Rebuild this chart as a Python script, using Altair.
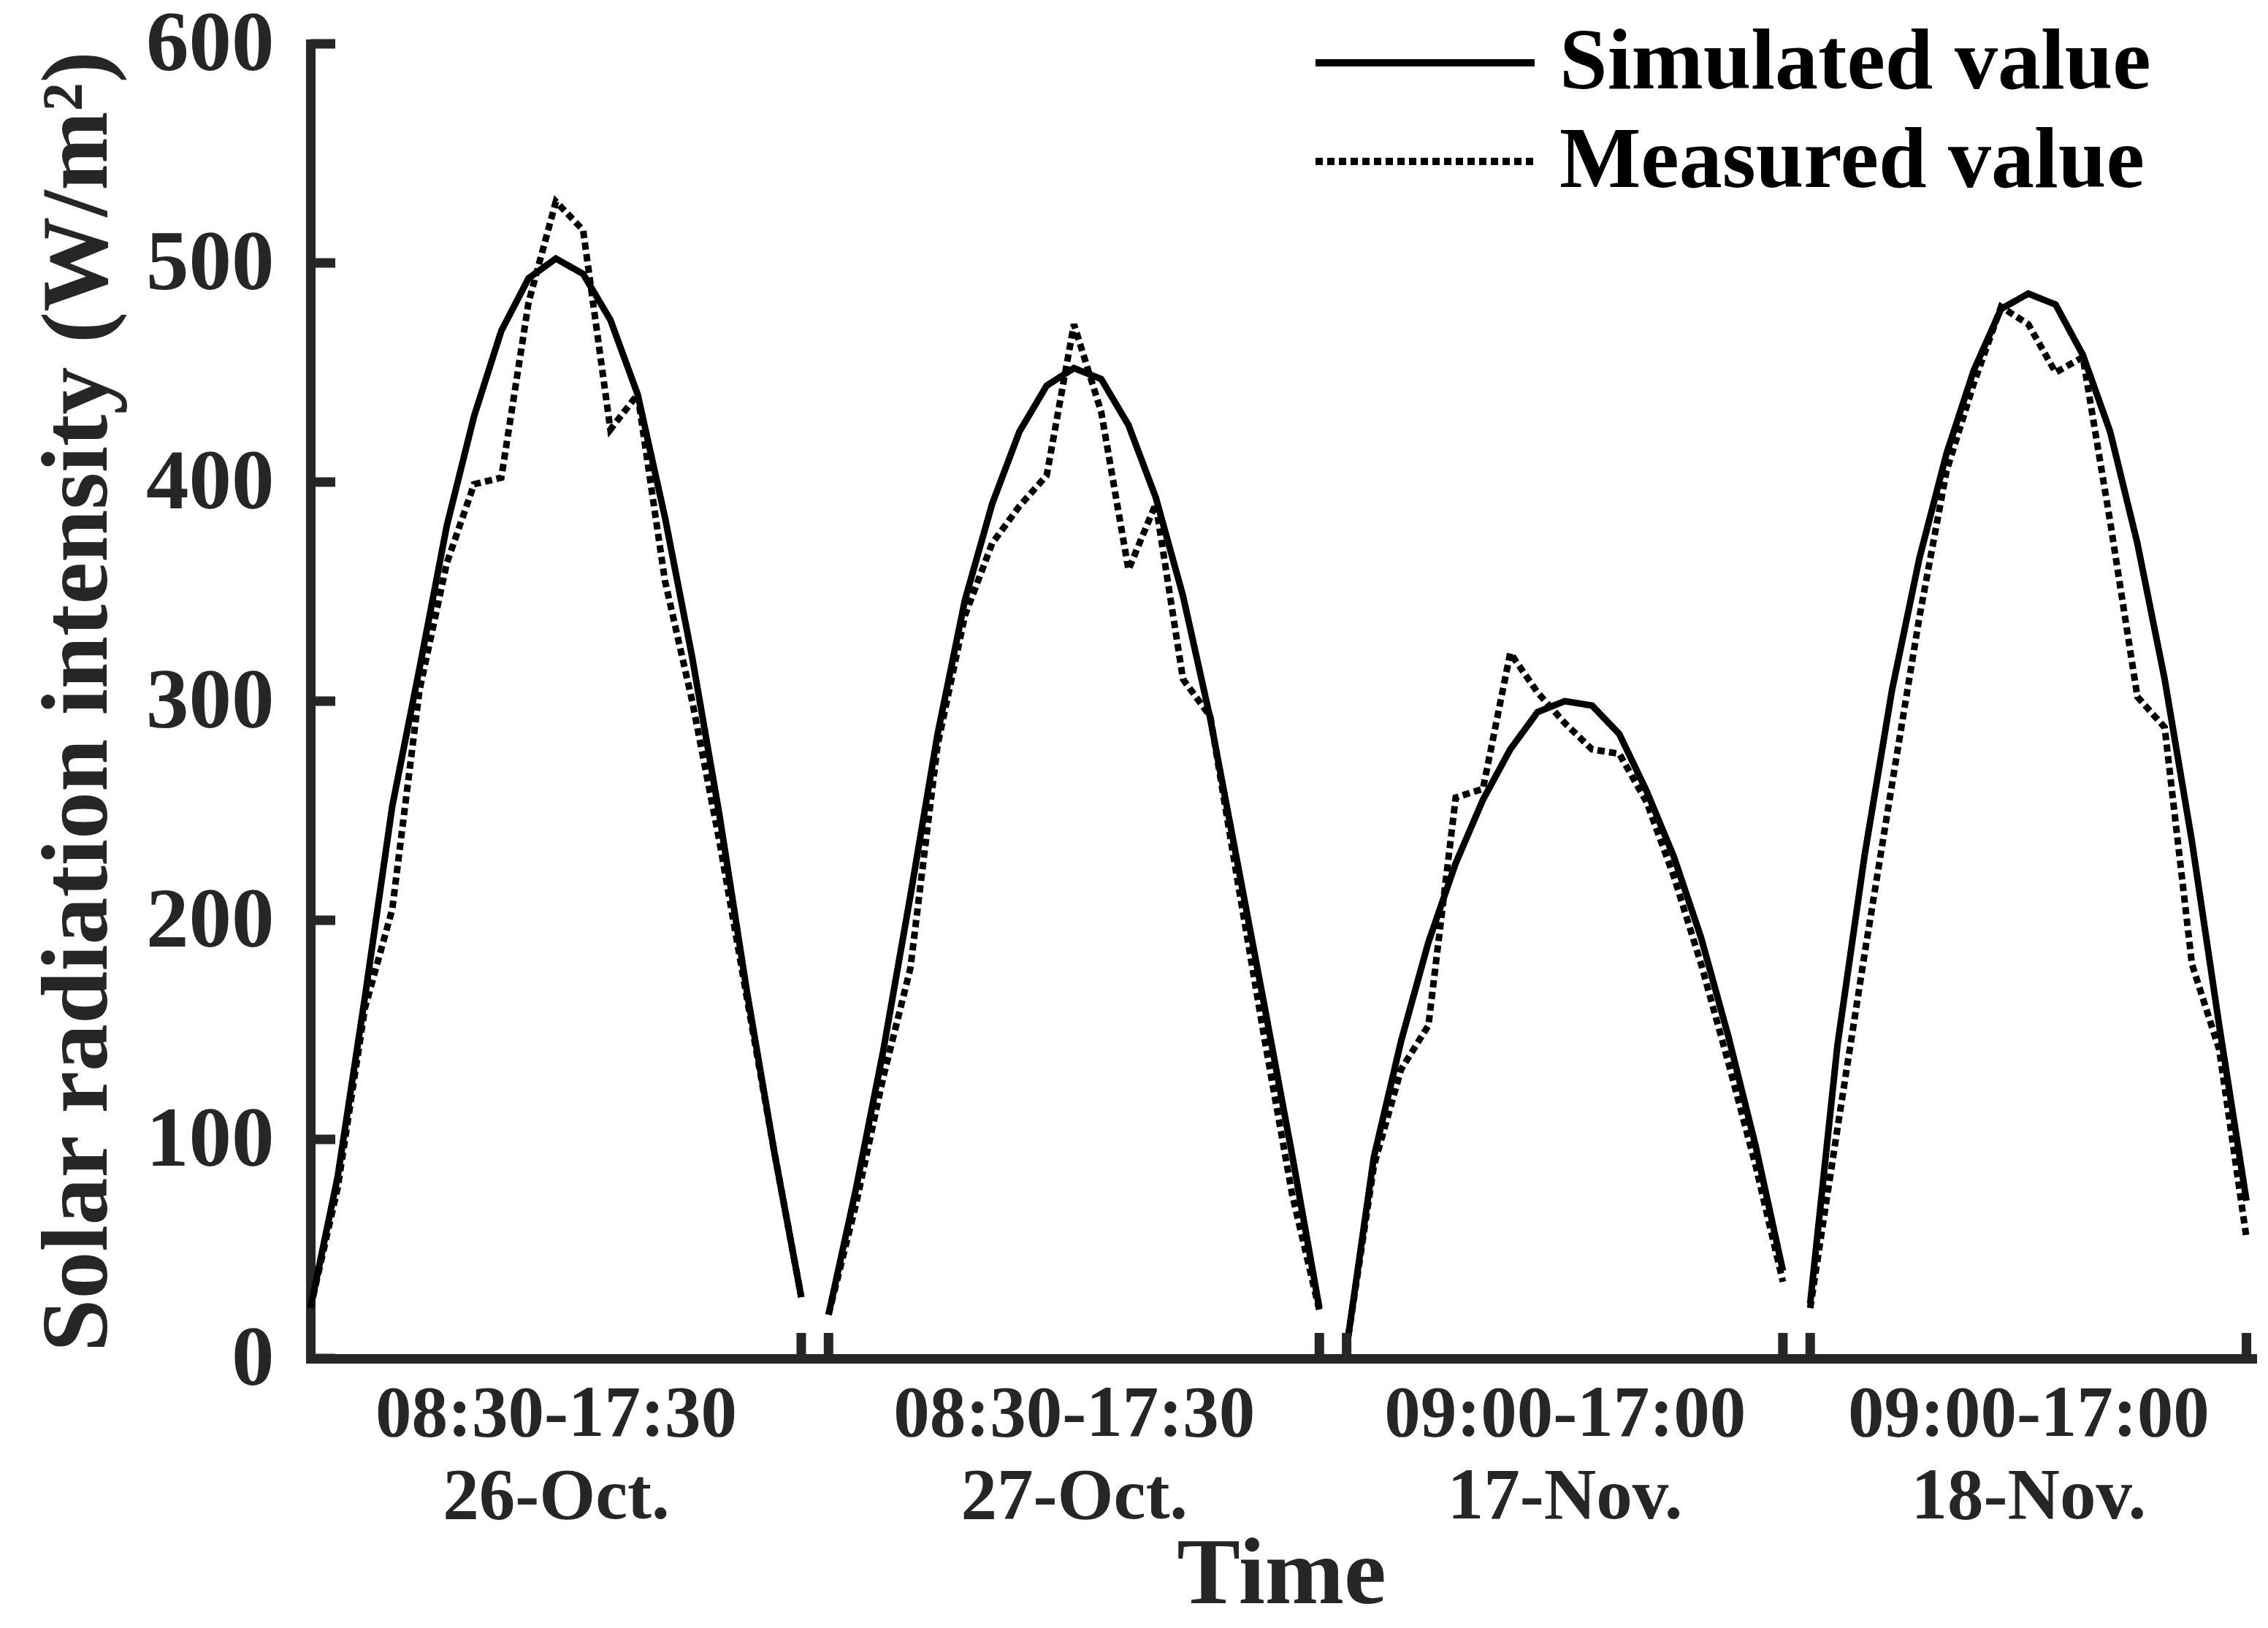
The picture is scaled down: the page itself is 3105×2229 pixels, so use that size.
import altair as alt
import pandas as pd

# ---------------- data ----------------
series_names = ["Simulated value", "Measured value"]
day_labels = ["26-Oct.", "27-Oct.", "17-Nov.", "18-Nov."]
period_labels = ["08:30-17:30", "08:30-17:30", "09:00-17:00", "09:00-17:00"]
day_start_hours = [8.5, 8.5, 9.0, 9.0]
day_end_hours = [17.5, 17.5, 17.0, 17.0]
step_hours = 0.5          # one reading every 30 minutes
gap_hours = 0.5           # axis break between two days

sim_26oct = [23, 83, 165, 252, 315, 380, 430, 469, 493, 502, 495, 474, 440, 384, 320, 248, 168, 95, 28]
meas_26oct = [23, 78, 160, 205, 305, 363, 399, 402, 482, 528, 515, 424, 440, 355, 300, 236, 165, 95, 28]

sim_27oct = [20, 77, 140, 211, 285, 346, 390, 423, 444, 452, 447, 426, 393, 348, 292, 226, 160, 93, 23]
meas_27oct = [20, 70, 128, 178, 280, 339, 372, 389, 403, 472, 432, 360, 390, 310, 293, 218, 145, 75, 22]

sim_17nov = [5, 92, 145, 190, 226, 255, 278, 295, 300, 298, 285, 259, 229, 192, 147, 97, 40]
meas_17nov = [5, 88, 132, 152, 256, 260, 322, 304, 290, 278, 276, 254, 220, 180, 135, 88, 35]

sim_18nov = [25, 143, 230, 305, 365, 413, 451, 479, 486, 481, 458, 423, 372, 310, 236, 152, 72]
meas_18nov = [23, 105, 185, 262, 338, 405, 445, 480, 472, 450, 457, 382, 302, 288, 180, 141, 55]

y_tick_values = [0, 100, 200, 300, 400, 500, 600]

sim_by_day = [sim_26oct, sim_27oct, sim_17nov, sim_18nov]
meas_by_day = [meas_26oct, meas_27oct, meas_17nov, meas_18nov]

# ---------------- build the broken time axis ----------------
rows = []
break_positions = []
label_positions = []
offset = 0.0
for d, (start, end) in enumerate(zip(day_start_hours, day_end_hours)):
    n = len(sim_by_day[d])
    for i in range(n):
        t = start + i * step_hours
        pos = offset + (t - start)
        rows.append({"x": pos, "y": sim_by_day[d][i], "series": series_names[0], "day": day_labels[d]})
        rows.append({"x": pos, "y": meas_by_day[d][i], "series": series_names[1], "day": day_labels[d]})
    if d > 0:
        break_positions.append(offset)
    break_positions.append(offset + (end - start))
    label_positions.append(offset + (end - start) / 2)
    offset += (end - start) + gap_hours

df = pd.DataFrame(rows)
x_max = offset - gap_hours + 0.1

label_expr = " : ".join(
    f"abs(datum.value - {p}) < 0.01 ? ['{a}', '{b}']"
    for p, a, b in zip(label_positions, period_labels, day_labels)
) + " : ''"

# ---------------- styling ----------------
W, H = 2658, 1800
AX = "#262626"
FONT = "Liberation Serif"

x_enc = alt.X(
    "x:Q",
    scale=alt.Scale(domain=[0, x_max], nice=False, zero=False),
    axis=alt.Axis(
        values=label_positions, labelExpr=label_expr, title="Time",
        ticks=False, tickSize=0, grid=False,
        domainColor=AX, domainWidth=13, domainCap="square",
        labelFont=FONT, labelFontSize=99, labelFontWeight="bold", labelColor=AX,
        labelLineHeight=113, labelPadding=27, labelLimit=1000,
        labelOverlap=False, labelFlush=False,
        titleFont=FONT, titleFontSize=130, titleFontWeight="bold", titleColor=AX,
        titleBaseline="alphabetic", titlePadding=134,
    ),
)

y_enc = alt.Y(
    "y:Q",
    scale=alt.Scale(domain=[0, 600], nice=False),
    axis=alt.Axis(
        values=y_tick_values, title="Solar radiation intensity (W/m²)",
        ticks=False, tickSize=0, grid=False,
        domainColor=AX, domainWidth=13, domainCap="square",
        labelFont=FONT, labelFontSize=117, labelFontWeight="bold", labelColor=AX,
        labelPadding=50, labelLimit=1000, labelOverlap=False, labelFlush=False,
        titleFont=FONT, titleFontSize=130, titleFontWeight="bold", titleColor=AX,
        titleBaseline="alphabetic", titlePadding=80,
    ),
)

lines = alt.Chart(df).mark_line(color="black", strokeWidth=9).encode(
    x=x_enc,
    y=y_enc,
    strokeDash=alt.StrokeDash(
        "series:N",
        title=None,
        scale=alt.Scale(domain=series_names, range=[[1, 0], [10, 6]]),
        legend=alt.Legend(
            orient="none", legendX=1376, legendY=-33, padding=0,
            symbolType="M-5,0H5", symbolSize=3600, symbolStrokeWidth=10,
            symbolStrokeColor="black", symbolOffset=91,
            labelOffset=125, labelFont=FONT, labelFontSize=118,
            labelFontWeight="bold", labelColor="black", labelLimit=2000,
            rowPadding=17,
        ),
    ),
    detail="day:N",
)

y_ticks = alt.Chart(pd.DataFrame({"y": y_tick_values})).mark_rule(
    color=AX, strokeWidth=13
).encode(y=y_enc, x=alt.value(0), x2=alt.value(34))

x_ticks = alt.Chart(pd.DataFrame({"x": break_positions})).mark_rule(
    color=AX, strokeWidth=13
).encode(x=x_enc, y=alt.value(H), y2=alt.value(H - 35))

chart = alt.layer(lines, y_ticks, x_ticks).properties(
    width=W,
    height=H,
    padding={"left": 417, "top": 52, "right": 14, "bottom": 369},
    autosize=alt.AutoSizeParams(type="none"),
    background="white",
).configure_view(stroke=None)

chart.save("out.html", embed_options={"renderer": "svg", "actions": False})
